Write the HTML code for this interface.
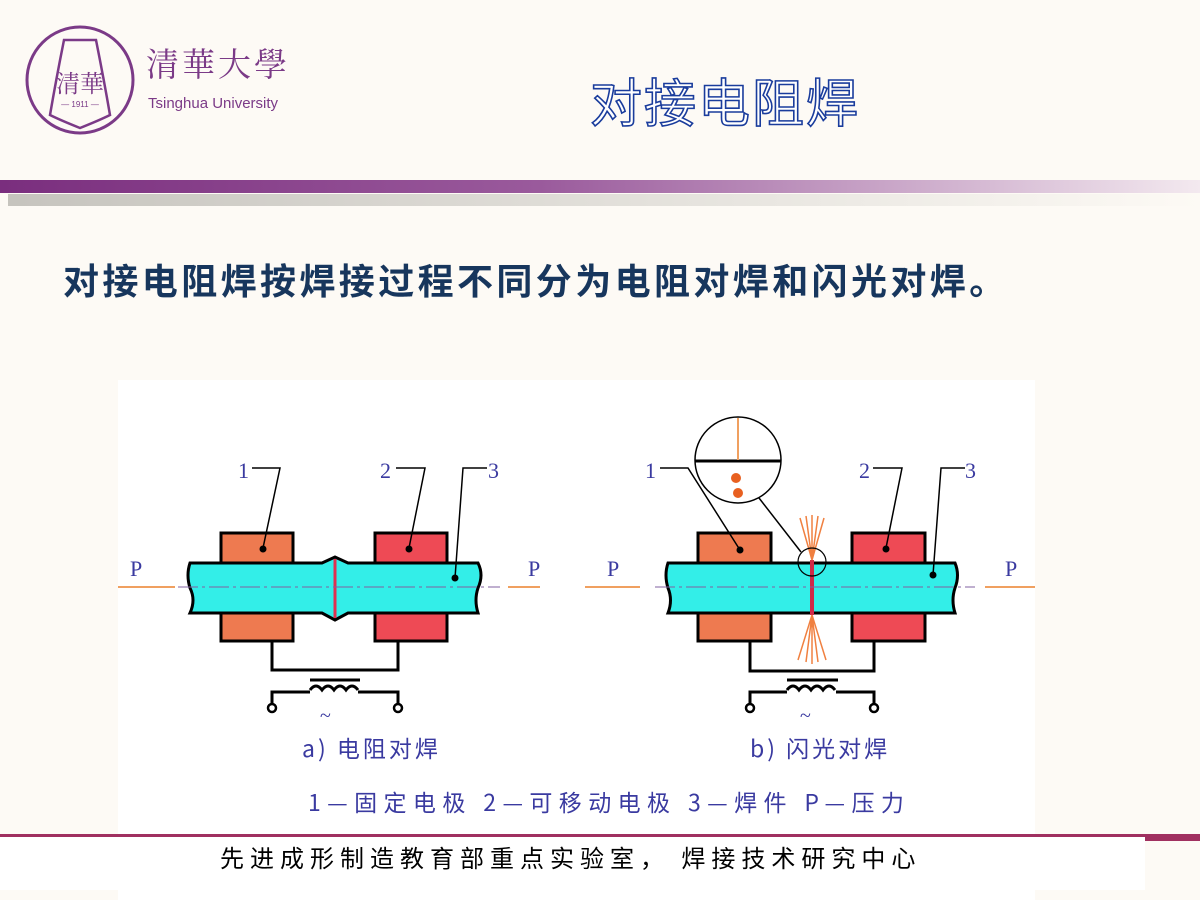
<!DOCTYPE html>
<html><head><meta charset="utf-8"><style>
body{margin:0;width:1200px;height:900px;background:#fdfaf5;position:relative;overflow:hidden;font-family:"Liberation Sans","Noto Sans CJK SC",sans-serif}
.a{position:absolute}
</style></head><body>
<svg class="a" style="left:0;top:0" width="1200" height="900">
<defs>
<linearGradient id="band" x1="0" x2="1"><stop offset="0" stop-color="#7a2e7e"/><stop offset="0.45" stop-color="#9a5a9c"/><stop offset="1" stop-color="#f3e9ef"/></linearGradient>
<linearGradient id="sh" x1="0" x2="1"><stop offset="0" stop-color="#b8b6b0"/><stop offset="1" stop-color="#fdfaf5"/></linearGradient>
</defs>
<circle cx="80" cy="80" r="53" fill="none" stroke="#7b3a87" stroke-width="3"/>
<path d="M64 40 L96 40 Q104 80 110 115 Q100 120 80 128 Q60 120 50 115 Q56 80 64 40Z" fill="none" stroke="#7b3a87" stroke-width="2.5"/>
<text x="80" y="92" font-size="24" fill="#7b3a87" text-anchor="middle" font-family="Noto Serif CJK SC,serif">清華</text>
<text x="80" y="107" font-size="8" fill="#7b3a87" text-anchor="middle">— 1911 —</text>
<text x="146" y="76" font-size="33" fill="#7b3a87" font-family="Noto Serif CJK SC,serif" letter-spacing="3">清華大學</text>
<text x="148" y="108" font-size="15" fill="#7b3a87">Tsinghua University</text>
<text x="590" y="122" font-size="52" letter-spacing="2" fill="#fff" stroke="#1a3c9c" stroke-width="1.6" font-family="Noto Sans CJK SC,sans-serif">对接电阻焊</text>
<rect x="0" y="180" width="1200" height="13" fill="url(#band)"/>
<rect x="8" y="194" width="1192" height="12" fill="url(#sh)" opacity="0.8"/>
<text x="63" y="294" font-size="36" letter-spacing="3.4" font-weight="bold" fill="#17365d" font-family="Noto Sans CJK SC,sans-serif">对接电阻焊按焊接过程不同分为电阻对焊和闪光对焊。</text>
<rect x="118" y="380" width="917" height="520" fill="#fff"/>
<g font-family="Liberation Serif,serif" font-size="22" fill="#3a3aa0">
<line x1="118" y1="587" x2="175" y2="587" stroke="#f0a060" stroke-width="2"/>
<line x1="508" y1="587" x2="540" y2="587" stroke="#f0a060" stroke-width="2"/>
<text x="130" y="576">P</text><text x="528" y="576">P</text>
<rect x="221" y="533" width="72" height="108" fill="#ee7a50" stroke="#000" stroke-width="3"/>
<rect x="375" y="533" width="72" height="108" fill="#ee4a55" stroke="#000" stroke-width="3"/>
<path d="M190 563 L322 563 L335 557 L348 563 L478 563 Q484 575 478 588 Q474 600 478 613 L348 613 L335 620 L322 613 L190 613 Q196 600 190 588 Q186 575 190 563Z" fill="#33eee8" stroke="#000" stroke-width="3"/>
<line x1="335" y1="559" x2="335" y2="618" stroke="#e03050" stroke-width="3"/>
<line x1="178" y1="587" x2="500" y2="587" stroke="#8060a0" stroke-width="1" stroke-dasharray="20,4,3,4"/>
<text x="238" y="478">1</text><text x="380" y="478">2</text><text x="488" y="478">3</text>
<polyline points="252,468 280,468 263,548" fill="none" stroke="#000" stroke-width="1.5"/>
<polyline points="396,468 425,468 409,548" fill="none" stroke="#000" stroke-width="1.5"/>
<polyline points="487,468 463,468 455,578" fill="none" stroke="#000" stroke-width="1.5"/>
<circle cx="263" cy="549" r="3.5" fill="#000"/><circle cx="409" cy="549" r="3.5" fill="#000"/><circle cx="455" cy="578" r="3.5" fill="#000"/>
<polyline points="272,641 272,670 398,670 398,641" fill="none" stroke="#000" stroke-width="3"/>
<line x1="310" y1="680" x2="360" y2="680" stroke="#000" stroke-width="3"/>
<path d="M310 690 q6 -8 12 0 q6 -8 12 0 q6 -8 12 0 q6 -8 12 0" fill="none" stroke="#000" stroke-width="3"/>
<polyline points="272,705 272,692 310,692" fill="none" stroke="#000" stroke-width="3"/>
<polyline points="398,705 398,692 358,692" fill="none" stroke="#000" stroke-width="3"/>
<circle cx="272" cy="708" r="4" fill="#fff" stroke="#000" stroke-width="2.5"/><circle cx="398" cy="708" r="4" fill="#fff" stroke="#000" stroke-width="2.5"/>
<text x="320" y="722" font-size="20">~</text>
<line x1="585" y1="587" x2="640" y2="587" stroke="#f0a060" stroke-width="2"/>
<line x1="985" y1="587" x2="1035" y2="587" stroke="#f0a060" stroke-width="2"/>
<text x="607" y="576">P</text><text x="1005" y="576">P</text>
<rect x="698" y="533" width="73" height="108" fill="#ee7a50" stroke="#000" stroke-width="3"/>
<rect x="852" y="533" width="73" height="108" fill="#ee4a55" stroke="#000" stroke-width="3"/>
<path d="M668 563 L955 563 Q960 575 955 588 Q951 600 955 613 L668 613 Q673 600 668 588 Q664 575 668 563Z" fill="#33eee8" stroke="#000" stroke-width="3"/>
<line x1="812" y1="560" x2="812" y2="615" stroke="#d02848" stroke-width="4"/>
<path d="M812 560 L800 518 M812 560 L806 516 M812 560 L812 515 M812 560 L818 516 M812 560 L824 518 M812 615 L798 660 M812 615 L806 662 M812 615 L812 664 M812 615 L818 662 M812 615 L826 660" stroke="#f08040" stroke-width="1.5"/>
<line x1="655" y1="587" x2="975" y2="587" stroke="#8060a0" stroke-width="1" stroke-dasharray="20,4,3,4"/>
<circle cx="812" cy="562" r="14" fill="none" stroke="#000" stroke-width="1.2"/>
<circle cx="738" cy="460" r="43" fill="#fff" stroke="#000" stroke-width="1.5"/>
<line x1="695" y1="461" x2="781" y2="461" stroke="#000" stroke-width="3"/>
<line x1="738" y1="418" x2="738" y2="460" stroke="#f0a060" stroke-width="2"/>
<circle cx="736" cy="478" r="5" fill="#e86020"/><circle cx="738" cy="493" r="5" fill="#e86020"/>
<line x1="759" y1="498" x2="801" y2="552" stroke="#000" stroke-width="1.5"/>
<text x="645" y="478">1</text><text x="859" y="478">2</text><text x="965" y="478">3</text>
<polyline points="660,468 688,468 740,550" fill="none" stroke="#000" stroke-width="1.5"/>
<polyline points="873,468 902,468 886,548" fill="none" stroke="#000" stroke-width="1.5"/>
<polyline points="965,468 941,468 933,575" fill="none" stroke="#000" stroke-width="1.5"/>
<circle cx="740" cy="550" r="3.5" fill="#000"/><circle cx="886" cy="549" r="3.5" fill="#000"/><circle cx="933" cy="575" r="3.5" fill="#000"/>
<polyline points="750,641 750,671 874,671 874,641" fill="none" stroke="#000" stroke-width="3"/>
<line x1="787" y1="680" x2="838" y2="680" stroke="#000" stroke-width="3"/>
<path d="M787 690 q6 -8 12 0 q6 -8 12 0 q6 -8 12 0 q6 -8 12 0" fill="none" stroke="#000" stroke-width="3"/>
<polyline points="750,705 750,692 787,692" fill="none" stroke="#000" stroke-width="3"/>
<polyline points="874,705 874,692 836,692" fill="none" stroke="#000" stroke-width="3"/>
<circle cx="750" cy="708" r="4" fill="#fff" stroke="#000" stroke-width="2.5"/><circle cx="874" cy="708" r="4" fill="#fff" stroke="#000" stroke-width="2.5"/>
<text x="800" y="722" font-size="20">~</text>
</g>
<g font-family="Noto Sans CJK SC,sans-serif" font-size="23" fill="#3a3aa0">
<text x="302" y="757" letter-spacing="3">a) 电阻对焊</text>
<text x="750" y="757" letter-spacing="3">b) 闪光对焊</text>
<text x="308" y="811" letter-spacing="6.4">1—固定电极 2—可移动电极 3—焊件 P—压力</text>
</g>
<rect x="0" y="834" width="1200" height="3" fill="#a03060"/>
<rect x="1145" y="837" width="55" height="4" fill="#a03060"/>
<rect x="0" y="837" width="1145" height="53" fill="#fff"/>
<text x="220" y="867" font-size="24" letter-spacing="6" fill="#000" font-family="Noto Sans CJK SC,sans-serif">先进成形制造教育部重点实验室， 焊接技术研究中心</text>
</svg>
</body></html>
